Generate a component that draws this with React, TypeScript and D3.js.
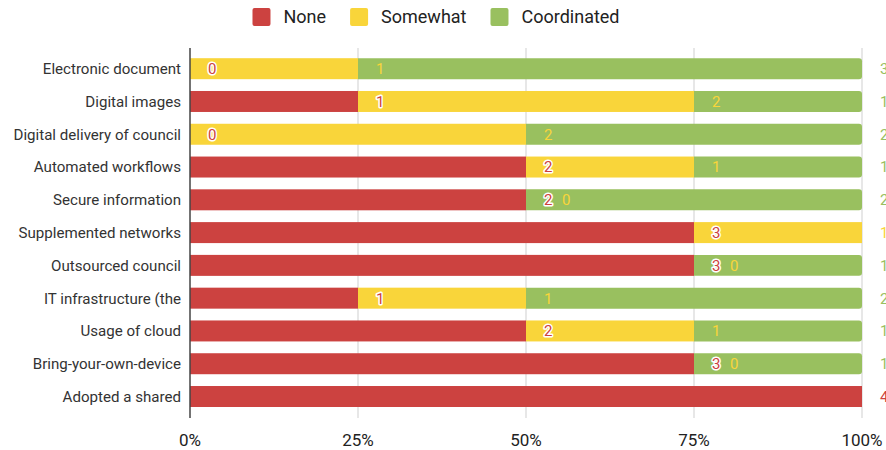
import React, { useEffect, useRef } from "react";
import * as d3 from "d3";

// Survey responses per initiative (counts out of 4 respondents)
const categories = [
  "Electronic document",
  "Digital images",
  "Digital delivery of council",
  "Automated workflows",
  "Secure information",
  "Supplemented networks",
  "Outsourced council",
  "IT infrastructure (the",
  "Usage of cloud",
  "Bring-your-own-device",
  "Adopted a shared",
];
const noneValues = [0, 1, 0, 2, 2, 3, 3, 1, 2, 3, 4];
const somewhatValues = [1, 2, 2, 1, 0, 1, 0, 1, 1, 0, 0];
const coordinatedValues = [3, 1, 2, 1, 2, 0, 1, 2, 1, 1, 0];

const seriesNames = ["None", "Somewhat", "Coordinated"];
const seriesColors = ["#cc4240", "#f9d53a", "#99c05f"];
const xTicks = [0, 0.25, 0.5, 0.75, 1];

const W = 886;
const H = 450;
const FONT = "Roboto, 'Noto Sans', sans-serif";

export default function App() {
  const ref = useRef<SVGSVGElement | null>(null);

  useEffect(() => {
    const svg = d3.select(ref.current);
    svg.selectAll("*").remove();

    const left = 190;
    const right = 862;
    const top = 52.3;
    const bottom = 412.9;

    const x = d3.scaleLinear().domain([0, 1]).range([left, right]);
    const y = d3
      .scaleBand<string>()
      .domain(categories)
      .range([top, bottom])
      .paddingInner(0.36)
      .paddingOuter(0.18);

    const series = [noneValues, somewhatValues, coordinatedValues];
    const rows = categories.map((c, i) => {
      const vals = series.map((s) => s[i]);
      const total = d3.sum(vals);
      let acc = 0;
      const segs = vals.map((v, k) => {
        const x0 = acc / total;
        acc += v;
        return { key: k, value: v, x0, x1: acc / total };
      });
      return { cat: c, segs };
    });

    // Gridlines
    const g = svg.append("g");
    g.selectAll("line.grid")
      .data(xTicks.slice(1))
      .join("line")
      .attr("x1", (d) => x(d))
      .attr("x2", (d) => x(d))
      .attr("y1", 48)
      .attr("y2", 418)
      .attr("stroke", "#cfcfcf")
      .attr("stroke-width", 1);

    // Bars (the last series gets rounded right corners)
    const r = 3;
    rows.forEach((row) => {
      const y0 = y(row.cat)!;
      const h = y.bandwidth();
      row.segs.forEach((s) => {
        if (s.value <= 0) return;
        const a = x(s.x0);
        const b = x(s.x1);
        if (s.key === 2) {
          const rr = Math.min(r, (b - a) / 2);
          const p = d3.path();
          p.moveTo(a, y0);
          p.lineTo(b - rr, y0);
          p.arcTo(b, y0, b, y0 + rr, rr);
          p.lineTo(b, y0 + h - rr);
          p.arcTo(b, y0 + h, b - rr, y0 + h, rr);
          p.lineTo(a, y0 + h);
          p.closePath();
          g.append("path").attr("d", p.toString()).attr("fill", seriesColors[s.key]);
        } else {
          g.append("rect")
            .attr("x", a)
            .attr("y", y0)
            .attr("width", b - a)
            .attr("height", h)
            .attr("fill", seriesColors[s.key]);
        }
      });
    });

    // Left axis line
    g.append("line")
      .attr("x1", left)
      .attr("x2", left)
      .attr("y1", 48)
      .attr("y2", 418)
      .attr("stroke", "#444")
      .attr("stroke-width", 1.5);

    // Category labels
    g.selectAll("text.cat")
      .data(categories)
      .join("text")
      .attr("x", 181)
      .attr("y", (d) => y(d)! + y.bandwidth() / 2)
      .attr("dy", "0.36em")
      .attr("text-anchor", "end")
      .attr("font-family", FONT)
      .attr("font-size", 15.1)
      .attr("fill", "#333")
      .text((d) => d);

    // X tick labels
    g.selectAll("text.tick")
      .data(xTicks)
      .join("text")
      .attr("x", (d) => x(d))
      .attr("y", 446)
      .attr("text-anchor", "middle")
      .attr("font-family", FONT)
      .attr("font-size", 17)
      .attr("fill", "#222")
      .text((d) => d3.format(".0%")(d));

    // Value labels: placed just right of each segment's end, pushed right to avoid overlap
    const labelFont = 15;
    const offset = 18;
    const gap = 9.5;
    rows.forEach((row) => {
      const cy = y(row.cat)! + y.bandwidth() / 2;
      let prevEnd = -Infinity;
      row.segs.forEach((s) => {
        const txt = String(s.value);
        const w = txt.length * labelFont * 0.562;
        let start = x(s.x1) + offset;
        if (start < prevEnd + gap) start = prevEnd + gap;
        prevEnd = start + w;
        const t = g
          .append("text")
          .attr("x", start)
          .attr("y", cy)
          .attr("dy", "0.36em")
          .attr("font-family", FONT)
          .attr("font-size", labelFont)
          .attr("fill", seriesColors[s.key])
          .text(txt);
        if (s.key === 0) {
          t.attr("stroke", "#fff")
            .attr("stroke-width", 3)
            .attr("stroke-linejoin", "round")
            .attr("paint-order", "stroke");
        }
      });
    });

    // Legend
    const legend = svg.append("g");
    const items: { w: number }[] = [];
    const tmp = legend
      .selectAll("text.leg")
      .data(seriesNames)
      .join("text")
      .attr("font-family", FONT)
      .attr("font-size", 18)
      .attr("fill", "#222")
      .text((d) => d);
    tmp.each(function () {
      items.push({ w: (this as SVGTextElement).getComputedTextLength() });
    });
    const sw = 18;
    const tgap = 13;
    const igap = 24;
    const totalW = d3.sum(items, (d) => sw + tgap + d.w) + igap * (items.length - 1);
    let lx = 436 - totalW / 2;
    seriesNames.forEach((name, i) => {
      legend
        .append("rect")
        .attr("x", lx)
        .attr("y", 8)
        .attr("width", sw)
        .attr("height", sw)
        .attr("rx", 2)
        .attr("fill", seriesColors[i]);
      d3.select(tmp.nodes()[i] as SVGTextElement)
        .attr("x", lx + sw + tgap)
        .attr("y", 17)
        .attr("dy", "0.36em");
      lx += sw + tgap + items[i].w + igap;
    });
  }, []);

  return (
    <svg
      ref={ref}
      width={W}
      height={H}
      style={{ position: "absolute", left: 0, top: 0, background: "#fff" }}
    />
  );
}
